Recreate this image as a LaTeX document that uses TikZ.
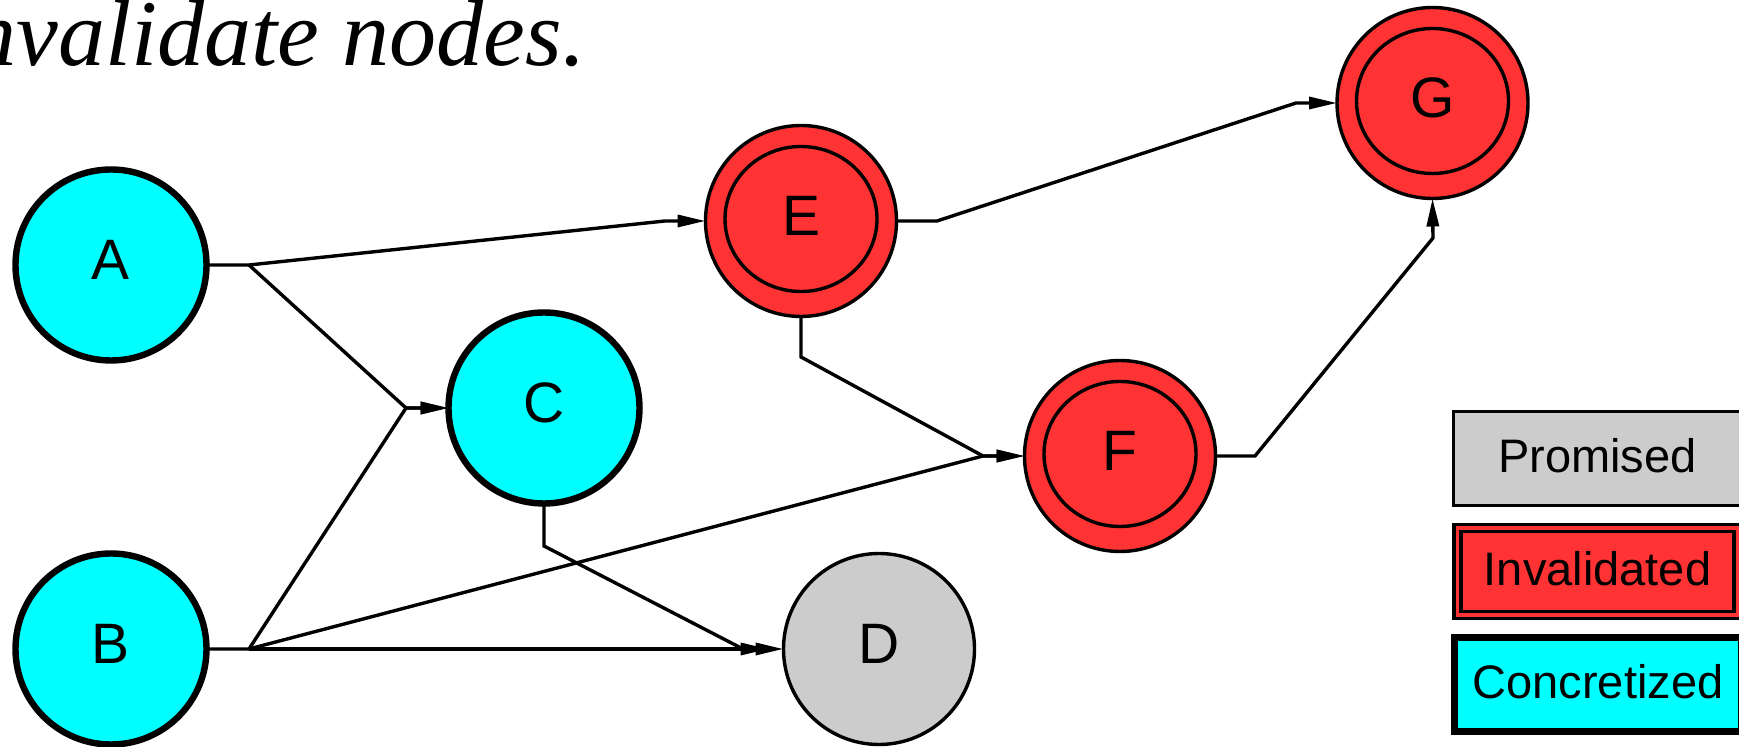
\documentclass[tikz,border=0pt]{standalone}
\usepackage{fontspec}
\setmainfont{Liberation Sans}
\newfontfamily\titlefont{Liberation Serif}
\usetikzlibrary{arrows.meta}
\definecolor{concr}{RGB}{0,255,255}
\definecolor{inval}{RGB}{255,51,51}
\definecolor{prom}{RGB}{204,204,204}
\begin{document}
\begin{tikzpicture}[x=0.5pt,y=-0.5pt,
  gnode/.style={circle,draw,line width=1.7pt,minimum size=95.5pt,inner sep=0pt,outer sep=0pt,
    font=\fontsize{28.5pt}{30pt}\selectfont,text height=20.4pt,text depth=6pt},
  concretized/.style={gnode,fill=concr,line width=3.2pt},
  promised/.style={gnode,fill=prom},
  invalidated/.style={gnode,fill=inval,
    path picture={\draw[line width=1.7pt] ([yshift=1pt]path picture bounding box.center) ellipse [x radius=38pt,y radius=36.25pt];}},
  legendbox/.style={rectangle,draw,line width=1.7pt,minimum width=144pt,minimum height=47pt,inner sep=0pt,outer sep=0pt,
    font=\fontsize{23.5pt}{25pt}\selectfont,text height=16.8pt,text depth=2.5pt},
  edge/.style={line width=1.7pt,-{Triangle[length=14pt,width=6pt]}},
  titletext/.style={anchor=base east,inner sep=0pt,font=\titlefont\itshape\fontsize{47pt}{50pt}\selectfont}
]
\useasboundingbox (0,0) rectangle (1739,747);

% title
\node[titletext] (title) at (586,66) {invalidate nodes.};

% nodes
\node[concretized] (A) at (111,265) {A};
\node[concretized] (B) at (111,649) {B};
\node[concretized] (C) at (544,408) {C};
\node[promised] (D) at (879,649) {D};
\node[invalidated] (E) at (801,221) {E};
\node[invalidated] (F) at (1120,456) {F};
\node[invalidated] (G) at (1432.5,103) {G};

% legend
\node[legendbox,fill=prom] (lp) at (1597.5,458.5) {Promised};
\node[legendbox,fill=inval,double=inval,double distance=1.8pt,minimum width=140pt,minimum height=43.5pt] (li) at (1597.5,571.5) {Invalidated};
\node[legendbox,fill=concr,line width=3.5pt,minimum width=143.5pt] (lc) at (1598,684.5) {Concretized};

% edges
\draw[edge] (A.east) -- (249,265) coordinate (ja) -- (665,221) -- (E.west);
\draw[edge] (ja) -- (406,408) coordinate (jc) -- (C.west);
\draw[edge] (B.east) -- (249,649) coordinate (jb) -- (jc) -- (C.west);
\draw[edge] (jb) -- (983,456) coordinate (jf) -- (F.west);
\draw[edge] (jb) -- (D.west);
\draw[edge] (C.south) -- (544,546) -- (743,649) -- ([xshift=-7.5pt]D.west);
\draw[edge] (E.south) -- (801,357) -- (jf) -- (F.west);
\draw[edge] (E.east) -- (937,221) -- (1296,103) -- (G.west);
\draw[edge] (F.east) -- (1255,456) -- (1433,238) -- (G.south);
\end{tikzpicture}
\end{document}
